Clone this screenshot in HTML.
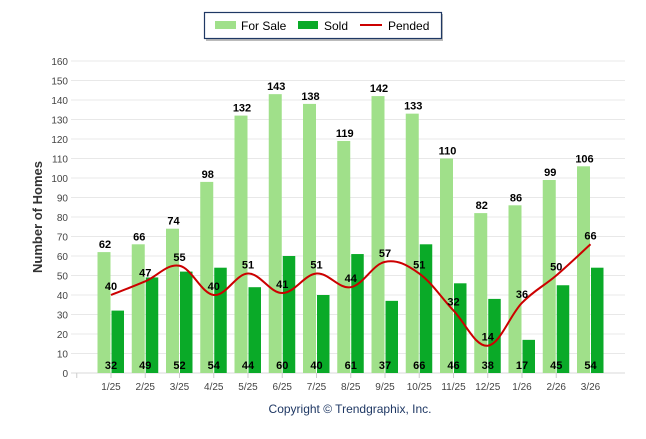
<!DOCTYPE html>
<html><head><meta charset="utf-8"><style>
body{margin:0;background:#fff;width:646px;height:434px;overflow:hidden;font-family:"Liberation Sans",sans-serif}
</style></head><body>
<svg id="chart" width="646" height="434" xmlns="http://www.w3.org/2000/svg" font-family="Liberation Sans, sans-serif">
<g>
<rect x="206" y="14" width="237" height="27" fill="#bbb"/>
<rect x="204.5" y="12.5" width="237" height="26" fill="#fff" stroke="#1f3864" stroke-width="1.2"/>
<rect x="215" y="21" width="21" height="8" fill="#a0e08a"/>
<text x="241" y="30" font-size="12" fill="#000">For Sale</text>
<rect x="298" y="21" width="20" height="8" fill="#0aaa28"/>
<text x="324" y="30" font-size="12" fill="#000">Sold</text>
<line x1="360" y1="25" x2="382" y2="25" stroke="#cc0000" stroke-width="2"/>
<text x="388" y="30" font-size="12" fill="#000">Pended</text>
</g>
<text transform="translate(42,217) rotate(-90)" text-anchor="middle" font-size="13" font-weight="bold" fill="#333">Number of Homes</text>
<text x="350" y="413" text-anchor="middle" font-size="12" fill="#1f3864">Copyright © Trendgraphix, Inc.</text>
<g id="grid"></g><g id="bars"></g><g id="line"></g><g id="labels"></g>
</svg>
<script>
const categories=["1/25","2/25","3/25","4/25","5/25","6/25","7/25","8/25","9/25","10/25","11/25","12/25","1/26","2/26","3/26"];
const forSale=[62,66,74,98,132,143,138,119,142,133,110,82,86,99,106];
const sold=[32,49,52,54,44,60,40,61,37,66,46,38,17,45,54];
const pended=[40,47,55,40,51,41,51,44,57,51,32,14,36,50,66];
const yTicks=[0,10,20,30,40,50,60,70,80,90,100,110,120,130,140,150,160];
const NS="http://www.w3.org/2000/svg";
const y=v=>373-v*(312/160);
const x=i=>111+i*34.25;
function mk(tag,attrs,parent,txt){const e=document.createElementNS(NS,tag);for(const k in attrs)e.setAttribute(k,attrs[k]);if(txt!==undefined)e.textContent=txt;document.getElementById(parent).appendChild(e);return e;}
yTicks.forEach(t=>{
 const l=mk('line',{x1:71,x2:625,y1:y(t),y2:y(t),stroke:t===0?'#d8d8d8':'#e8e8e8','stroke-width':1},'grid');
 
 
 const tx=mk('text',{x:68,y:y(t)+4,'text-anchor':'end','font-size':10,fill:'#444'},'grid',t);
 
 
});
categories.forEach((c,i)=>{
 const tk=mk('line',{x1:x(i)-34.25,x2:x(i)-34.25,y1:373,y2:378,stroke:'#ccc'},'grid');
 
 
 const tl=mk('text',{x:x(i),y:390,'text-anchor':'middle','font-size':10,fill:'#444'},'grid',c);
 
 
 const b1=mk('rect',{x:x(i)-13.5,y:y(forSale[i]),width:13,height:373-y(forSale[i]),fill:'#a0e08a'},'bars');
 
 
 const b2=mk('rect',{x:x(i)+0.5,y:y(sold[i]),width:12.5,height:373-y(sold[i]),fill:'#0aaa28'},'bars');
 
 
 const l1=mk('text',{x:x(i)-6,y:y(forSale[i])-4,'text-anchor':'middle','font-size':11,'font-weight':'bold',fill:'#000'},'labels',forSale[i]);
 
 
 const l2=mk('text',{x:x(i),y:369,'text-anchor':'middle','font-size':11,'font-weight':'bold',fill:'#000'},'labels',sold[i]);
 
 
 const l3=mk('text',{x:x(i),y:y(pended[i])-5,'text-anchor':'middle','font-size':11,'font-weight':'bold',fill:'#000'},'labels',pended[i]);
 
 
});
const pts=pended.map((v,i)=>[x(i),y(v)]);
let d='M'+pts[0][0]+','+pts[0][1];
for(let i=0;i<pts.length-1;i++){
 const p0=pts[Math.max(0,i-1)],p1=pts[i],p2=pts[i+1],p3=pts[Math.min(pts.length-1,i+2)];
 const t=0.18*3/3;
 const c1=[p1[0]+(p2[0]-p0[0])*t,p1[1]+(p2[1]-p0[1])*t];
 const c2=[p2[0]-(p3[0]-p1[0])*t,p2[1]-(p3[1]-p1[1])*t];
 d+=` C${c1[0]},${c1[1]} ${c2[0]},${c2[1]} ${p2[0]},${p2[1]}`;
}
const pl=mk('path',{d:d,fill:'none',stroke:'#cc0000','stroke-width':2},'line');


</script>
</body></html>
